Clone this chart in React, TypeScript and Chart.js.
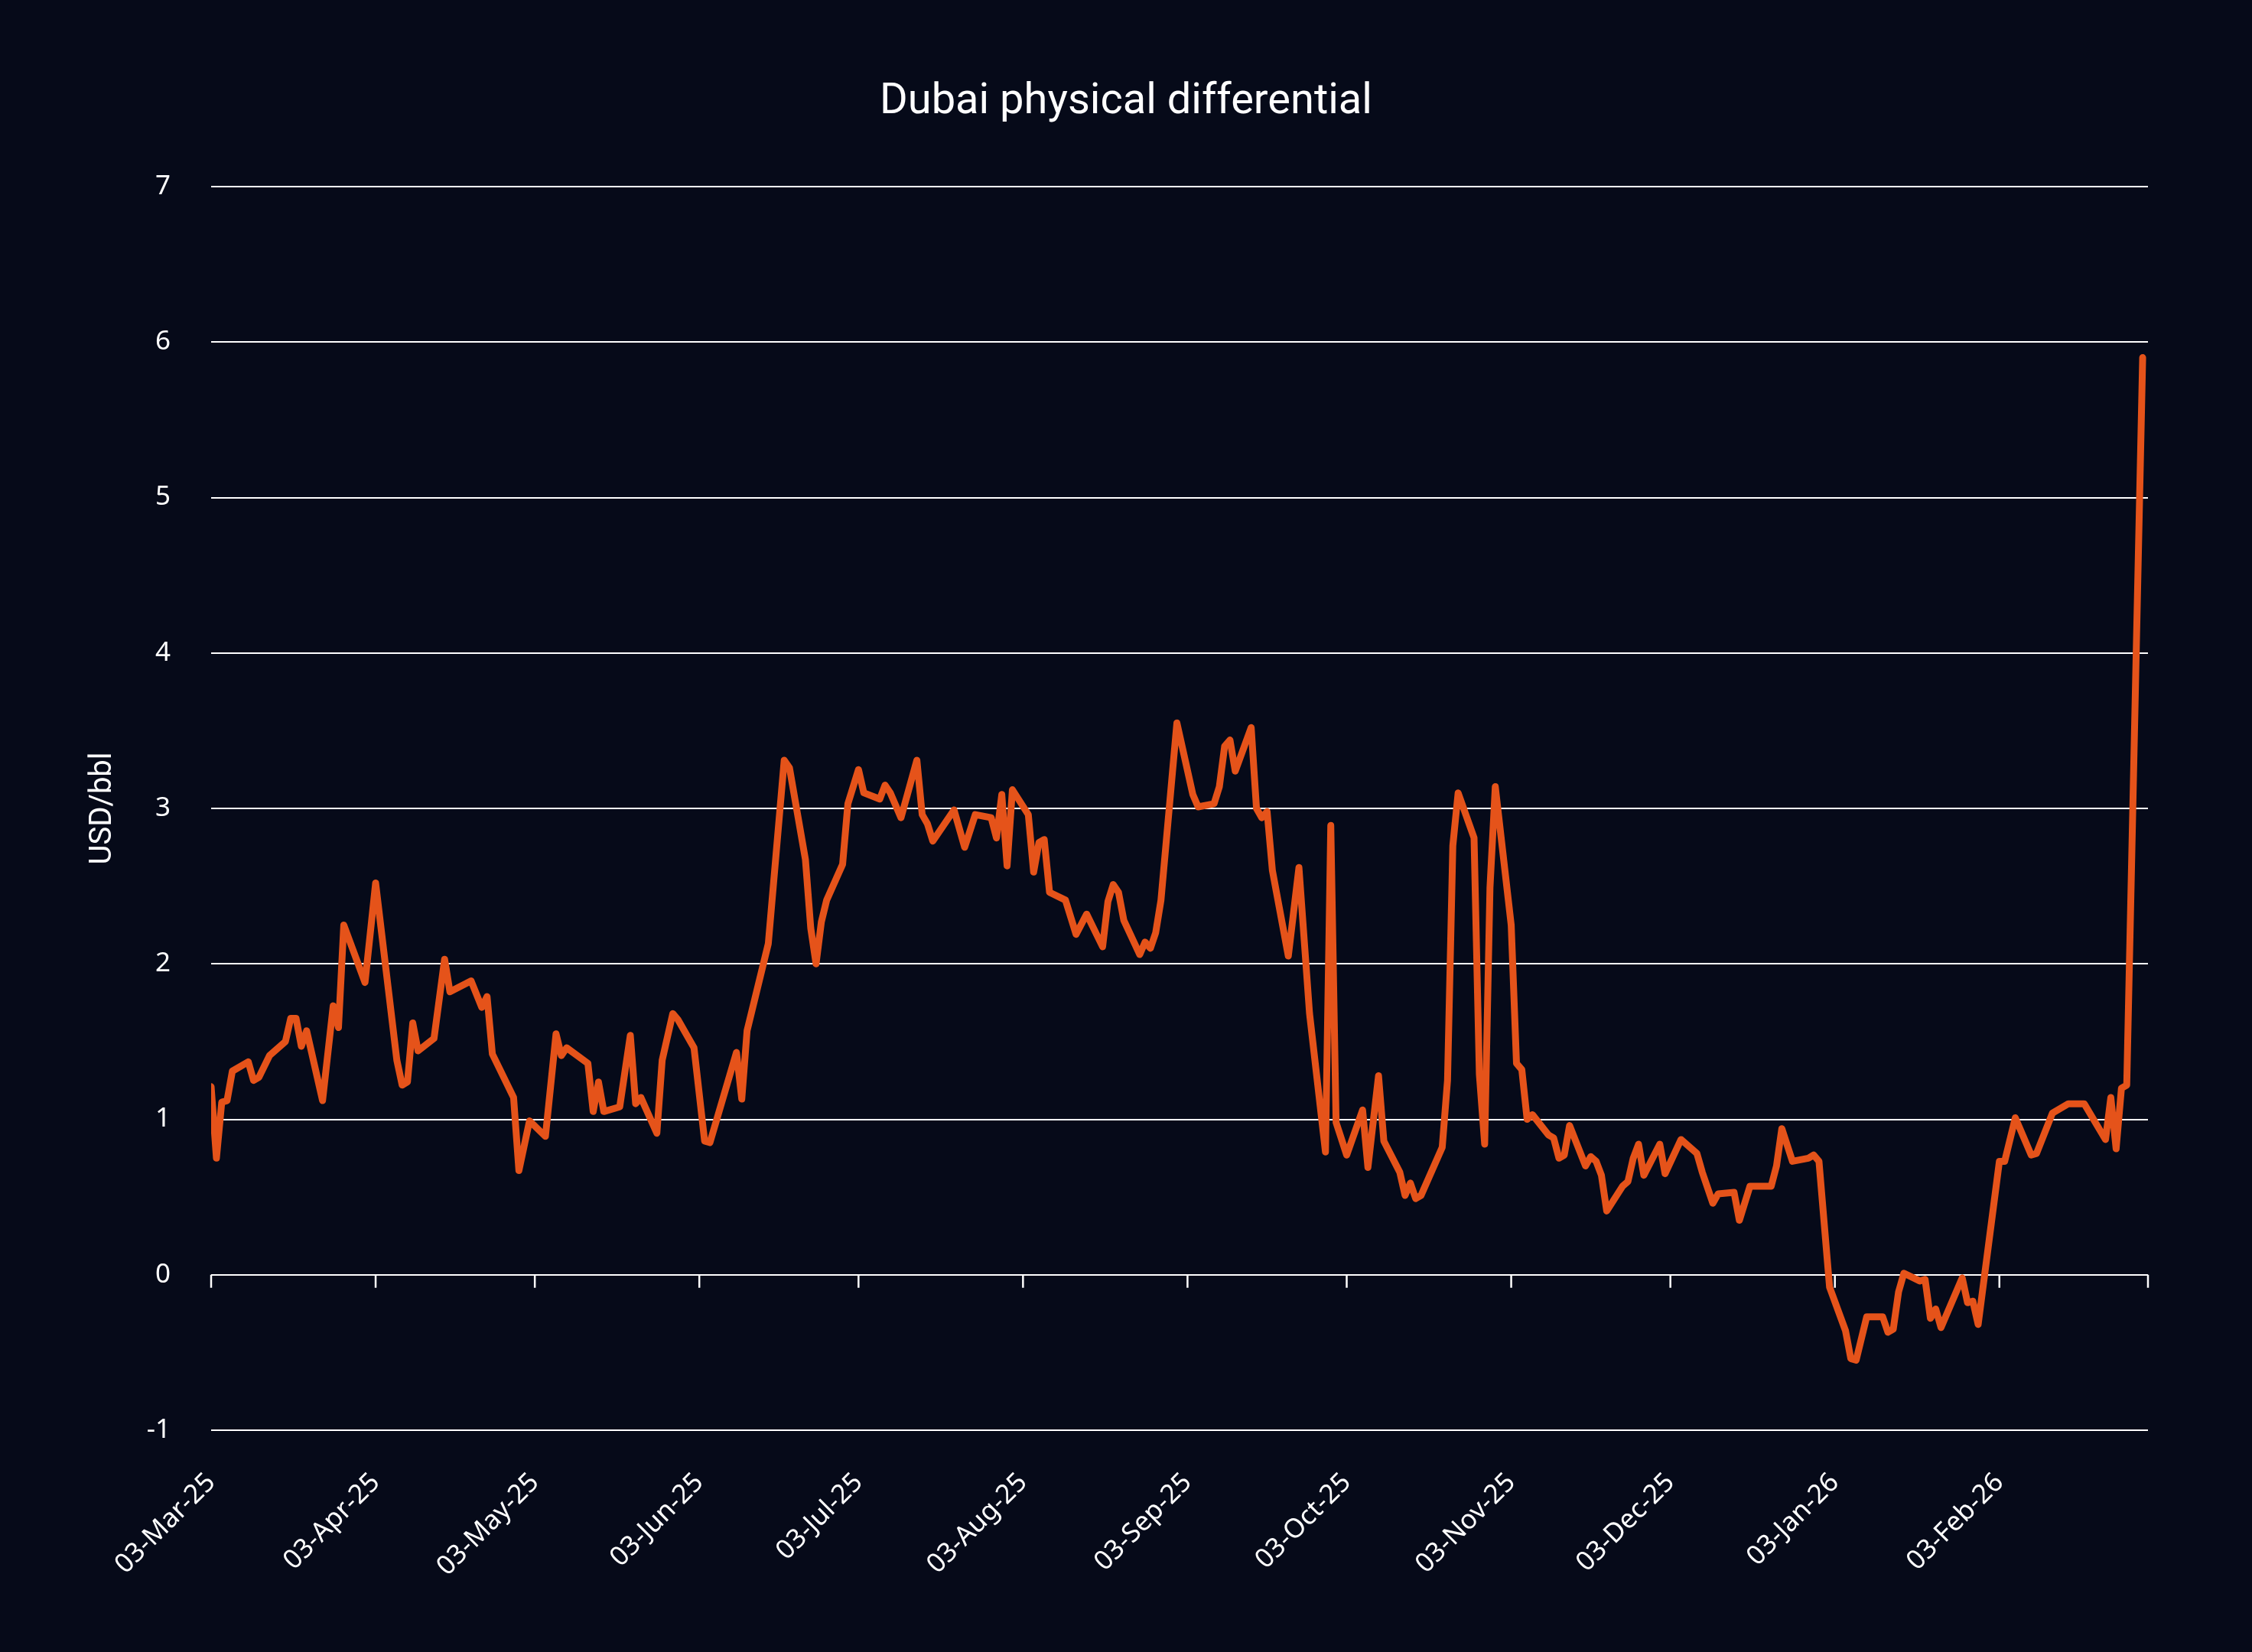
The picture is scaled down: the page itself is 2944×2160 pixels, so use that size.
import { useEffect, useRef } from "react";
import { Chart, registerables } from "chart.js";

Chart.register(...registerables);

const chartTitle = "Dubai physical differential";
const yAxisTitle = "USD/bbl";
const startDate = "2025-03-03";
const endDate = "2026-03-03";

const dates = [
  "2025-03-03", "2025-03-04", "2025-03-05", "2025-03-06", "2025-03-07", "2025-03-10", "2025-03-11", "2025-03-12",
  "2025-03-14", "2025-03-17", "2025-03-18", "2025-03-19", "2025-03-20", "2025-03-21", "2025-03-24", "2025-03-26",
  "2025-03-27", "2025-03-28", "2025-04-01", "2025-04-03", "2025-04-07", "2025-04-08", "2025-04-09", "2025-04-10",
  "2025-04-11", "2025-04-14", "2025-04-16", "2025-04-17", "2025-04-21", "2025-04-23", "2025-04-24", "2025-04-25",
  "2025-04-29", "2025-04-30", "2025-05-02", "2025-05-05", "2025-05-07", "2025-05-08", "2025-05-09", "2025-05-13",
  "2025-05-14", "2025-05-15", "2025-05-16", "2025-05-19", "2025-05-21", "2025-05-22", "2025-05-23", "2025-05-26",
  "2025-05-27", "2025-05-29", "2025-05-30", "2025-06-02", "2025-06-04", "2025-06-05", "2025-06-10", "2025-06-11",
  "2025-06-12", "2025-06-16", "2025-06-19", "2025-06-20", "2025-06-23", "2025-06-24", "2025-06-25", "2025-06-26",
  "2025-06-27", "2025-06-30", "2025-07-01", "2025-07-03", "2025-07-04", "2025-07-07", "2025-07-08", "2025-07-09",
  "2025-07-11", "2025-07-14", "2025-07-15", "2025-07-16", "2025-07-17", "2025-07-21", "2025-07-23", "2025-07-25",
  "2025-07-28", "2025-07-29", "2025-07-30", "2025-07-31", "2025-08-01", "2025-08-04", "2025-08-05", "2025-08-06",
  "2025-08-07", "2025-08-08", "2025-08-11", "2025-08-13", "2025-08-15", "2025-08-18", "2025-08-19", "2025-08-20",
  "2025-08-21", "2025-08-22", "2025-08-25", "2025-08-26", "2025-08-27", "2025-08-28", "2025-08-29", "2025-09-01",
  "2025-09-04", "2025-09-05", "2025-09-08", "2025-09-09", "2025-09-10", "2025-09-11", "2025-09-12", "2025-09-15",
  "2025-09-16", "2025-09-17", "2025-09-18", "2025-09-19", "2025-09-22", "2025-09-24", "2025-09-26", "2025-09-29",
  "2025-09-30", "2025-10-01", "2025-10-03", "2025-10-06", "2025-10-07", "2025-10-09", "2025-10-10", "2025-10-13",
  "2025-10-14", "2025-10-15", "2025-10-16", "2025-10-17", "2025-10-21", "2025-10-22", "2025-10-23", "2025-10-24",
  "2025-10-27", "2025-10-28", "2025-10-29", "2025-10-30", "2025-10-31", "2025-11-03", "2025-11-04", "2025-11-05",
  "2025-11-06", "2025-11-07", "2025-11-10", "2025-11-11", "2025-11-12", "2025-11-13", "2025-11-14", "2025-11-17",
  "2025-11-18", "2025-11-19", "2025-11-20", "2025-11-21", "2025-11-24", "2025-11-25", "2025-11-26", "2025-11-27",
  "2025-11-28", "2025-12-01", "2025-12-02", "2025-12-05", "2025-12-08", "2025-12-09", "2025-12-11", "2025-12-12",
  "2025-12-15", "2025-12-16", "2025-12-18", "2025-12-22", "2025-12-23", "2025-12-24", "2025-12-26", "2025-12-29",
  "2025-12-30", "2025-12-31", "2026-01-02", "2026-01-05", "2026-01-06", "2026-01-07", "2026-01-09", "2026-01-12",
  "2026-01-13", "2026-01-14", "2026-01-15", "2026-01-16", "2026-01-19", "2026-01-20", "2026-01-21", "2026-01-22",
  "2026-01-23", "2026-01-27", "2026-01-28", "2026-01-29", "2026-01-30", "2026-02-03", "2026-02-04", "2026-02-06",
  "2026-02-09", "2026-02-10", "2026-02-13", "2026-02-16", "2026-02-19", "2026-02-23", "2026-02-24", "2026-02-25",
  "2026-02-26", "2026-02-27", "2026-03-02",
];

const values = [
  1.21, 0.75, 1.11, 1.12, 1.31, 1.37, 1.25, 1.27,
  1.41, 1.50, 1.65, 1.65, 1.47, 1.57, 1.12, 1.73,
  1.59, 2.25, 1.88, 2.52, 1.38, 1.22, 1.24, 1.62,
  1.44, 1.52, 2.03, 1.82, 1.89, 1.72, 1.79, 1.42,
  1.14, 0.67, 0.99, 0.89, 1.55, 1.41, 1.46, 1.36,
  1.05, 1.24, 1.05, 1.08, 1.54, 1.10, 1.14, 0.91,
  1.38, 1.68, 1.64, 1.46, 0.86, 0.85, 1.43, 1.13,
  1.57, 2.13, 3.31, 3.26, 2.67, 2.23, 2.00, 2.27,
  2.41, 2.64, 3.03, 3.25, 3.10, 3.06, 3.15, 3.10,
  2.94, 3.31, 2.96, 2.90, 2.79, 2.99, 2.75, 2.96,
  2.94, 2.81, 3.09, 2.63, 3.12, 2.96, 2.59, 2.78,
  2.80, 2.46, 2.41, 2.19, 2.32, 2.11, 2.40, 2.51,
  2.46, 2.28, 2.06, 2.14, 2.10, 2.20, 2.41, 3.55,
  3.09, 3.01, 3.03, 3.14, 3.40, 3.44, 3.24, 3.52,
  3.00, 2.94, 2.98, 2.60, 2.05, 2.62, 1.68, 0.79,
  2.89, 0.98, 0.77, 1.06, 0.69, 1.28, 0.86, 0.66,
  0.51, 0.59, 0.49, 0.51, 0.82, 1.25, 2.76, 3.10,
  2.81, 1.29, 0.84, 2.49, 3.14, 2.25, 1.36, 1.32,
  1.00, 1.03, 0.90, 0.88, 0.75, 0.77, 0.96, 0.70,
  0.76, 0.73, 0.64, 0.41, 0.57, 0.60, 0.75, 0.84,
  0.64, 0.84, 0.65, 0.87, 0.78, 0.66, 0.46, 0.52,
  0.53, 0.35, 0.57, 0.57, 0.70, 0.94, 0.73, 0.75,
  0.77, 0.73, -0.08, -0.36, -0.54, -0.55, -0.27, -0.27,
  -0.37, -0.35, -0.11, 0.01, -0.04, -0.03, -0.28, -0.22,
  -0.34, -0.02, -0.18, -0.17, -0.32, 0.73, 0.73, 1.01,
  0.77, 0.78, 1.04, 1.10, 1.10, 0.87, 1.14, 0.81,
  1.20, 1.22, 5.90,
];

const tickDates = [
  "2025-03-03", "2025-04-03", "2025-05-03", "2025-06-03", "2025-07-03", "2025-08-03", "2025-09-03",
  "2025-10-03", "2025-11-03", "2025-12-03", "2026-01-03", "2026-02-03", "2026-03-03",
];
const tickLabels = [
  "03-Mar-25", "03-Apr-25", "03-May-25", "03-Jun-25", "03-Jul-25", "03-Aug-25", "03-Sep-25",
  "03-Oct-25", "03-Nov-25", "03-Dec-25", "03-Jan-26", "03-Feb-26", "",
];
const yMin = -1;
const yMax = 7;
const yStep = 1;

const DAY_MS = 86400000;
const dayIndex = (s: string) =>
  (Date.parse(s + "T00:00:00Z") - Date.parse(startDate + "T00:00:00Z")) / DAY_MS;

const BG = "#060a19";
const LINE = "#e5531a";
const WHITE = "#ffffff";

const titlePlugin = {
  id: "customTitle",
  afterDraw(chart: any) {
    const ctx = chart.ctx;
    ctx.save();
    ctx.fillStyle = WHITE;
    ctx.font = "400 56px Roboto";
    ctx.textAlign = "center";
    ctx.textBaseline = "alphabetic";
    ctx.fillText(chartTitle, chart.width / 2, 148);
    ctx.restore();
  },
};

const zeroTickPlugin = {
  id: "zeroTicks",
  beforeDatasetsDraw(chart: any) {
    const xs = chart.scales.x;
    const ys = chart.scales.y;
    const y0 = ys.getPixelForValue(0);
    const ctx = chart.ctx;
    ctx.save();
    ctx.strokeStyle = WHITE;
    ctx.lineWidth = 2.5;
    tickDates.forEach((d) => {
      const x = xs.getPixelForValue(dayIndex(d));
      ctx.beginPath();
      ctx.moveTo(x, y0);
      ctx.lineTo(x, y0 + 17);
      ctx.stroke();
    });
    ctx.restore();
  },
};

export default function App() {
  const canvasRef = useRef<HTMLCanvasElement | null>(null);

  useEffect(() => {
    const canvas = canvasRef.current;
    if (!canvas) return;
    const points = dates.map((d, i) => ({ x: dayIndex(d), y: values[i] }));
    const chart = new Chart(canvas, {
      type: "line",
      data: {
        datasets: [
          {
            label: chartTitle,
            data: points,
            borderColor: LINE,
            backgroundColor: LINE,
            borderWidth: 9,
            pointRadius: 0,
            tension: 0,
            borderJoinStyle: "round",
            borderCapStyle: "round",
          },
        ],
      },
      options: {
        animation: false,
        responsive: false,
        devicePixelRatio: 1,
        layout: { padding: { top: 244, right: 136, bottom: 0, left: 0 } },
        plugins: {
          legend: { display: false },
          tooltip: { enabled: false },
          title: { display: false },
        },
        scales: {
          x: {
            type: "linear",
            min: dayIndex(startDate),
            max: dayIndex(endDate),
            position: "bottom",
            grid: { display: false },
            border: { display: false },
            afterBuildTicks: (scale: any) => {
              scale.ticks = tickDates.map((d) => ({ value: dayIndex(d) }));
            },
            afterFit: (scale: any) => {
              scale.height = 290;
            },
            ticks: {
              autoSkip: false,
              maxRotation: 45,
              minRotation: 45,
              color: WHITE,
              padding: 40,
              font: { family: "'Noto Sans'", size: 35 },
              callback: (_v: any, i: number) => tickLabels[i],
            },
          },
          y: {
            type: "linear",
            min: yMin,
            max: yMax,
            grid: { color: WHITE, lineWidth: 2, drawTicks: false },
            border: { display: false },
            afterFit: (scale: any) => {
              scale.width = 276;
            },
            ticks: {
              stepSize: yStep,
              color: WHITE,
              padding: 53,
              font: { family: "'Noto Sans'", size: 35 },
            },
            title: {
              display: true,
              text: yAxisTitle,
              color: WHITE,
              font: { family: "Roboto", size: 40 },
              padding: { top: 111, bottom: 0 },
            },
          },
        },
      },
      plugins: [titlePlugin, zeroTickPlugin],
    } as any);
    return () => chart.destroy();
  }, []);

  return (
    <div
      style={{
        position: "fixed",
        left: 0,
        top: 0,
        width: 2944,
        height: 2160,
        background: BG,
      }}
    >
      <canvas ref={canvasRef} width={2944} height={2160} style={{ display: "block" }} />
    </div>
  );
}
